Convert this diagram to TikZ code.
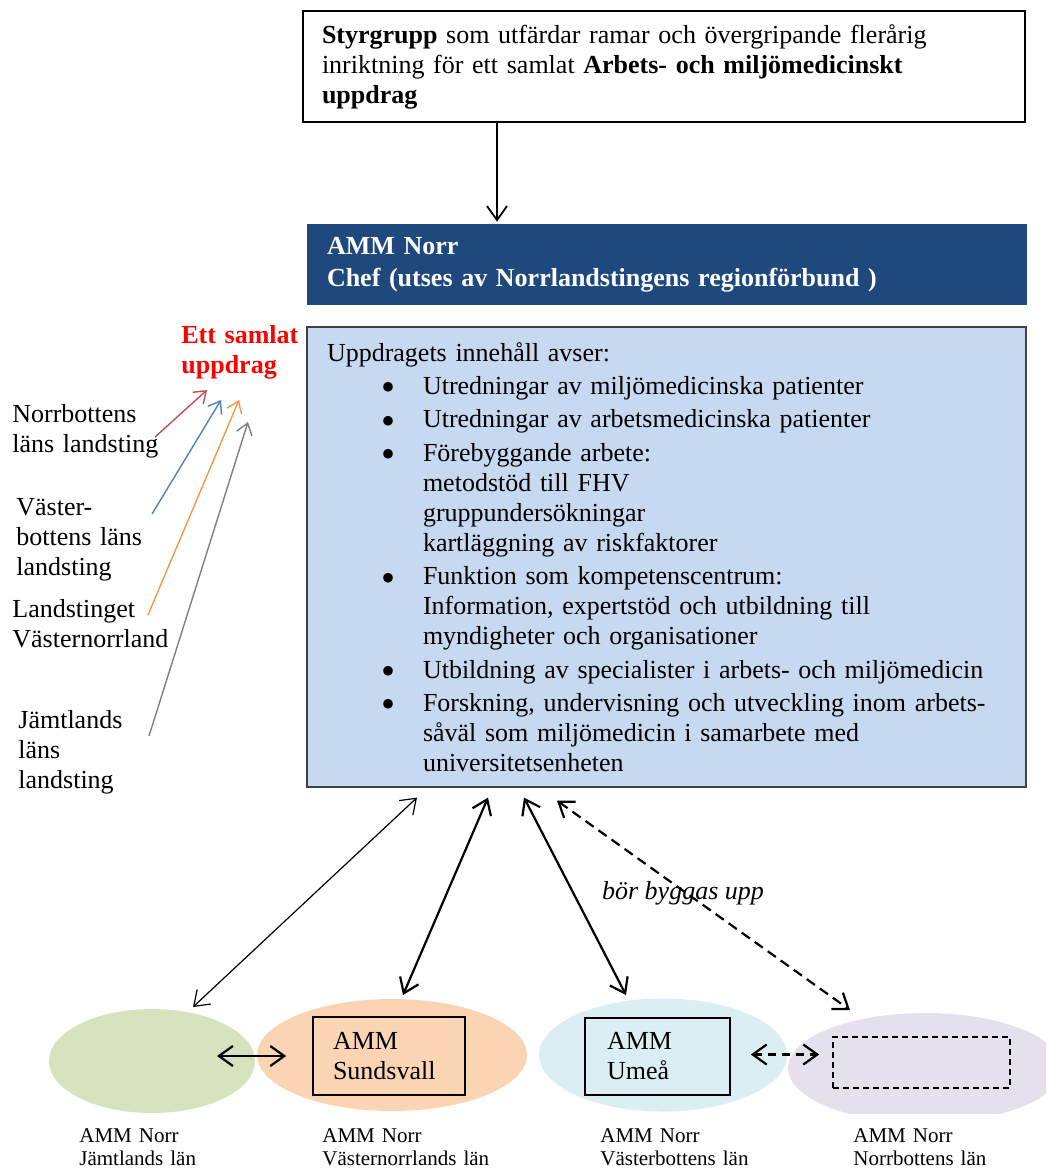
\documentclass[tikz,border=0pt]{standalone}
\usepackage{fontspec}
\setmainfont{Liberation Serif}
\usetikzlibrary{shapes.geometric,arrows.meta,positioning,calc}
\definecolor{navy}{HTML}{1F497D}
\definecolor{paleblue}{HTML}{C6D9F1}
\definecolor{jamtgreen}{HTML}{D7E3BC}
\definecolor{vnorange}{HTML}{FBD4B4}
\definecolor{vbcyan}{HTML}{DAEEF3}
\definecolor{nblilac}{HTML}{E5E0EC}
\definecolor{lnred}{HTML}{C0504D}
\definecolor{lnblue}{HTML}{4F81BD}
\definecolor{lnorange}{HTML}{F79646}
\definecolor{lngray}{HTML}{7F7F7F}
\newcommand{\bul}{\hspace*{27pt}\makebox[21pt][l]{\smash{\raisebox{-3.2pt}{\fontsize{20}{15}\selectfont\textbullet}}}}
\newcommand{\ind}{\hspace*{48pt}}

\begin{document}
\begin{tikzpicture}[
  x=0.5pt,y=-0.5pt,
  every node/.style={inner sep=0pt},
  txt/.style={anchor=base west,text width=90pt,align=left,
              font=\fontsize{13}{15}\selectfont},
  topbox/.style={draw=black,line width=0.8pt,fill=white,text width=342pt,
              inner xsep=9.5pt,minimum height=55.5pt,align=left,
              font=\fontsize{13}{15}\selectfont},
  chefbox/.style={fill=navy,text=white,text width=340pt,inner xsep=10pt,
              minimum height=40.5pt,align=left,
              font=\bfseries\fontsize{13}{16}\selectfont},
  taskbox/.style={draw=black!75,line width=0.6pt,fill=paleblue,
              text width=339.5pt,inner xsep=10pt,minimum height=230pt,
              align=left,font=\fontsize{13}{15}\selectfont},
  county/.style={ellipse,inner sep=0pt},
  unitbox/.style={draw=black,line width=0.8pt,align=left,
              font=\fontsize{13}{15}\selectfont},
  lbl/.style={anchor=base west,text width=100pt,align=left,
              font=\fontsize{10.5}{11.5}\selectfont},
  arr/.style={-{Straight Barb[length=7pt,width=10pt]},line width=0.9pt},
  dbl/.style={{Straight Barb[length=7pt,width=10pt]}-{Straight Barb[length=7pt,width=10pt]},
              line width=1.1pt},
  feed/.style={-{Straight Barb[length=5.5pt,width=8pt]},line width=0.7pt}
]
\useasboundingbox (0,0) rectangle (1046,1169);

% top: steering group and head of unit
\node[topbox] (styr) at (664,66.5)
  {\textbf{Styrgrupp} som utfärdar ramar och övergripande flerårig\\
   inriktning för ett samlat \textbf{Arbets- och miljömedicinskt}\\
   \textbf{uppdrag}};
\node[chefbox] (chef) at (667,264.5)
  {AMM Norr\\Chef (utses av Norrlandstingens regionförbund )};
\coordinate (sx) at (497,0);
\draw[arr] (styr.south -| sx) -- ([yshift=1pt]chef.north -| sx);

% the common assignment
\node[taskbox] (task) at (666.5,557)
  {Uppdragets innehåll avser:\\[1.7pt]
   \bul Utredningar av miljömedicinska patienter\\[1.7pt]
   \bul Utredningar av arbetsmedicinska patienter\\[1.7pt]
   \bul Förebyggande arbete:\\
   \ind metodstöd till FHV\\
   \ind gruppundersökningar\\
   \ind kartläggning av riskfaktorer\\[1.7pt]
   \bul Funktion som kompetenscentrum:\\
   \ind Information, expertstöd och utbildning till\\
   \ind myndigheter och organisationer\\[1.7pt]
   \bul Utbildning av specialister i arbets- och miljömedicin\\[1.7pt]
   \bul Forskning, undervisning och utveckling inom arbets-\\
   \ind såväl som miljömedicin i samarbete med\\
   \ind universitetsenheten};

% LEFT: county councils
\node[txt,text=red,font=\bfseries\fontsize{13}{15}\selectfont] (samlat) at (181,343)
  {Ett samlat\\uppdrag};
\node[txt] (nbl) at (12,422) {Norrbottens\\läns landsting};
\node[txt] (vbl) at (16,515) {Väster-\\bottens läns\\landsting};
\node[txt] (vnl) at (12,617) {Landstinget\\Västernorrland};
\node[txt] (jml) at (18,728) {Jämtlands\\läns\\landsting};

\coordinate (nb-from) at (155,437);  \coordinate (nb-tip) at (207,390);
\coordinate (vb-from) at (152,514);  \coordinate (vb-tip) at (221,400);
\coordinate (vn-from) at (148,615);  \coordinate (vn-tip) at (239,400);
\coordinate (jm-from) at (149,736);  \coordinate (jm-tip) at (248,422);
\draw[feed,lnred]    (nb-from) -- (nb-tip);
\draw[feed,lnblue]   (vb-from) -- (vb-tip);
\draw[feed,lnorange] (vn-from) -- (vn-tip);
\draw[feed,lngray]   (jm-from) -- (jm-tip);

% BOTTOM: regional units
\begin{scope}
  \clip (0,0) rectangle (1046,1113);
  \node[county,fill=jamtgreen,minimum width=103pt,minimum height=52pt] (jamt) at (152,1061) {};
  \node[county,fill=vnorange,minimum width=135pt,minimum height=56pt] (vnorr) at (392,1055) {};
  \node[county,fill=vbcyan,minimum width=124pt,minimum height=56.5pt] (vbott) at (663,1055) {};
  \node[county,fill=nblilac,minimum width=137pt,minimum height=55pt] (nbott) at (925,1068) {};
\end{scope}

\node[unitbox,text width=56pt,inner xsep=10pt,minimum height=39pt] (sund) at (389,1056)
  {AMM\\Sundsvall};
\node[unitbox,text width=50.5pt,inner xsep=11pt,minimum height=38.5pt] (umea) at (657.5,1056.5)
  {AMM\\Umeå};
\node[draw,dashed,dash pattern=on 3pt off 2pt,line width=0.8pt,
      minimum width=88.5pt,minimum height=25.5pt] (nbbox) at (921.5,1062.5) {};

\draw[dbl,shorten <=32.5pt,shorten >=13pt] (sund.west -| jamt.center) -- (sund.west);
\draw[dbl,dashed,dash pattern=on 4pt off 3pt,shorten <=10pt,shorten >=6.5pt]
  ([yshift=1pt]umea.east) -- ([yshift=1pt]umea.east -| nbbox.west);

\node[lbl] (jamt-l)  at (79,1142)  {AMM Norr\\Jämtlands län};
\node[lbl] (vnorr-l) at (322,1142) {AMM Norr\\Västernorrlands län};
\node[lbl] (vbott-l) at (600,1142) {AMM Norr\\Västerbottens län};
\node[lbl] (nbott-l) at (853,1142) {AMM Norr\\Norrbottens län};

% links between the units and the assignment
\coordinate (up1) at ($(task.south)+(-249.5,10)$);
\coordinate (up2) at ($(task.south)+(-178.5,10)$);
\coordinate (up3) at ($(task.south)+(-142.5,10)$);
\coordinate (up4) at ($(task.south)+(-109.5,13)$);
\coordinate (dn1) at ($(jamt.center)+(41,-54)$);
\coordinate (dn2) at ($(vnorr.center)+(11,-60)$);
\coordinate (dn3) at ($(vbott.center)+(-37,-60)$);
\coordinate (dn4) at ($(nbott.center)+(-75,-58)$);
\draw[dbl,line width=0.6pt] (up1) -- (dn1);
\draw[dbl] (up2) -- (dn2);
\draw[dbl] (up3) -- (dn3);
\draw[dbl,dashed,dash pattern=on 5pt off 3pt] (up4) -- (dn4);

\node[font=\itshape\fontsize{13}{15}\selectfont] (byggas) at (683,893) {bör byggas upp};
\end{tikzpicture}
\end{document}
